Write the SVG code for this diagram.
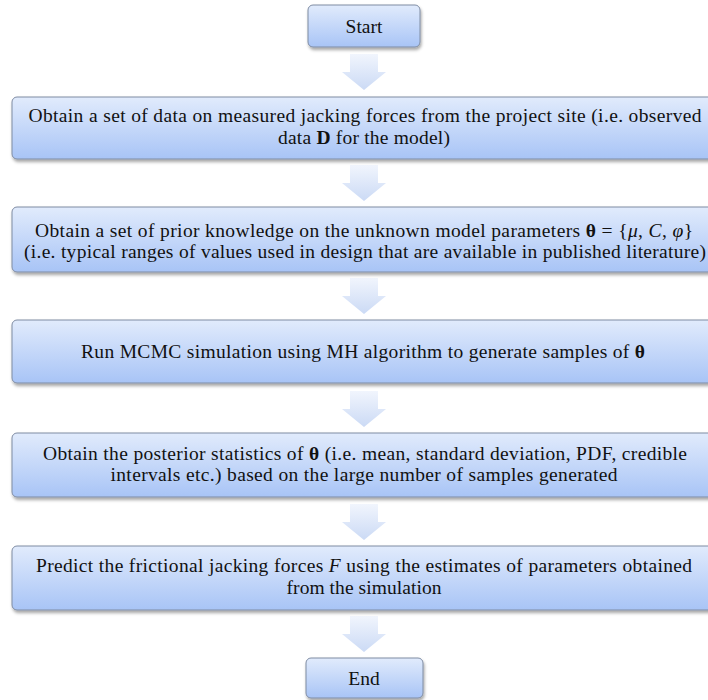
<svg xmlns="http://www.w3.org/2000/svg" width="708" height="700" viewBox="0 0 708 700">
<defs>
<linearGradient id="boxg" x1="0" y1="0" x2="0" y2="1">
<stop offset="0" stop-color="#e1ebfc"/>
<stop offset="1" stop-color="#a8c4f6"/>
</linearGradient>
<linearGradient id="arrg" x1="0" y1="0" x2="0" y2="1">
<stop offset="0" stop-color="#f1f5fd"/>
<stop offset="1" stop-color="#cbdaf5"/>
</linearGradient>
<filter id="sh" x="-5%" y="-20%" width="110%" height="150%">
<feDropShadow dx="1" dy="2.5" stdDeviation="1.5" flood-color="#000" flood-opacity="0.35"/>
</filter>
<path id="arrow" d="M-14,0 H14 V18 H22 L0,36 L-22,18 H-14 Z"/>
</defs>
<style>
.box{fill:url(#boxg);stroke:#7f8ca3;stroke-width:1;filter:url(#sh)}
.arr{fill:url(#arrg)}
text{font-family:"Liberation Serif","Times New Roman",serif;font-size:19.5px;fill:#111;text-anchor:middle}
.b{font-weight:bold}
.i{font-style:italic}
</style>

<g id="connectors">
<use href="#arrow" class="arr" x="364" y="54"/>
<use href="#arrow" class="arr" x="364" y="165"/>
<use href="#arrow" class="arr" x="364" y="278"/>
<use href="#arrow" class="arr" x="364" y="391"/>
<use href="#arrow" class="arr" x="364" y="504"/>
<use href="#arrow" class="arr" x="364" y="616"/>
</g>

<g id="start">
<rect class="box" x="308" y="5" width="112" height="42" rx="5"/>
<text x="364" y="33">Start</text>
</g>

<g id="step1">
<rect class="box" x="12" y="97" width="704" height="62" rx="5"/>
<text x="365" y="122" textLength="673" lengthAdjust="spacing">Obtain a set of data on measured jacking forces from the project site (i.e. observed</text>
<text x="364" y="144" textLength="172" lengthAdjust="spacing">data <tspan class="b">D</tspan> for the model)</text>
</g>

<g id="step2">
<rect class="box" x="12" y="207" width="704" height="65" rx="5"/>
<text x="364" y="237" textLength="658" lengthAdjust="spacing">Obtain a set of prior knowledge on the unknown model parameters <tspan class="b">θ</tspan> = {<tspan class="i">μ</tspan>, <tspan class="i">C</tspan>, <tspan class="i">φ</tspan>}</text>
<text x="365" y="258" textLength="682" lengthAdjust="spacing">(i.e. typical ranges of values used in design that are available in published literature)</text>
</g>

<g id="step3">
<rect class="box" x="12" y="320" width="704" height="63" rx="5"/>
<text x="363" y="358" textLength="564" lengthAdjust="spacing">Run MCMC simulation using MH algorithm to generate samples of <tspan class="b">θ</tspan></text>
</g>

<g id="step4">
<rect class="box" x="12" y="433" width="704" height="64" rx="5"/>
<text x="365" y="460" textLength="644" lengthAdjust="spacing">Obtain the posterior statistics of <tspan class="b">θ</tspan> (i.e. mean, standard deviation, PDF, credible</text>
<text x="364" y="481" textLength="507" lengthAdjust="spacing">intervals etc.) based on the large number of samples generated</text>
</g>

<g id="step5">
<rect class="box" x="12" y="546" width="704" height="64" rx="5"/>
<text x="364" y="572" textLength="656" lengthAdjust="spacing">Predict the frictional jacking forces <tspan class="i">F</tspan> using the estimates of parameters obtained</text>
<text x="364" y="594" textLength="155" lengthAdjust="spacing">from the simulation</text>
</g>

<g id="end">
<rect class="box" x="306" y="658" width="117" height="40" rx="5"/>
<text x="364" y="685">End</text>
</g>
</svg>
